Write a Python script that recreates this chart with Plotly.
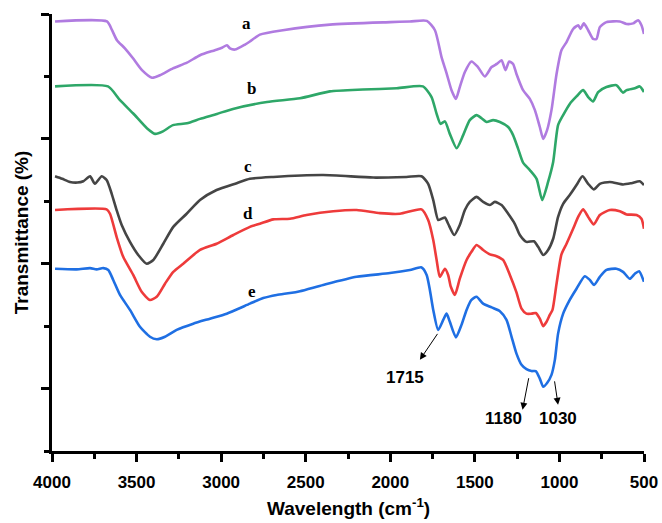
import plotly.graph_objects as go

# FTIR spectra (wavenumber in cm-1, transmittance in offset arbitrary units)
a_wn = [3982, 3675, 3645, 3616, 3569, 3521, 3468, 3409, 3362, 3285, 3202, 3125, 3037, 2995, 2966, 2948, 2918, 2859, 2830, 2771,
        2635, 2357, 2000, 1884, 1784, 1736, 1697, 1667, 1638, 1612, 1589, 1559, 1520, 1482, 1441, 1401, 1370, 1342, 1319, 1297,
        1274, 1254, 1215, 1175, 1145, 1116, 1096, 1073, 1047, 1017, 988, 958, 919, 889, 875, 856, 830, 801, 781, 761,
        722, 643, 603, 564, 535, 515, 500]
a_T = [68.8, 68.8, 67.4, 65.8, 64.5, 62.9, 61.0, 59.8, 60.2, 61.3, 62.2, 63.4, 64.2, 64.6, 65.0, 64.5, 64.3, 65.1, 65.6, 66.7,
       67.4, 68.3, 68.7, 68.8, 68.9, 67.4, 63.1, 60.5, 57.8, 56.4, 58.3, 60.7, 62.4, 61.5, 60.0, 61.5, 62.0, 62.6, 61.0, 62.4,
       62.0, 60.4, 57.8, 56.4, 54.6, 51.9, 50.0, 51.4, 54.6, 60.4, 64.2, 65.5, 67.6, 68.2, 67.6, 68.5, 67.4, 66.0, 66.0, 67.9,
       68.7, 68.8, 68.4, 68.5, 69.0, 68.2, 66.8]

b_wn = [3982, 3669, 3598, 3521, 3439, 3391, 3344, 3285, 3202, 3125, 3025, 2930, 2729, 2534, 2357, 2162, 1961, 1807, 1756, 1726,
        1703, 1677, 1648, 1608, 1569, 1530, 1490, 1460, 1431, 1392, 1352, 1303, 1274, 1244, 1215, 1175, 1135, 1102, 1067, 1037,
        1008, 978, 939, 899, 860, 830, 801, 771, 722, 663, 624, 603, 554, 525, 500]
b_T = [58.4, 58.4, 56.2, 54.1, 51.7, 50.8, 51.2, 52.2, 52.5, 53.2, 54.0, 54.8, 55.9, 56.5, 57.6, 57.9, 58.1, 58.4, 56.7, 54.0,
       52.4, 52.8, 50.8, 48.5, 50.6, 53.0, 53.8, 53.3, 52.7, 53.0, 52.7, 51.9, 50.6, 48.4, 46.2, 45.0, 43.6, 40.2, 43.1, 46.3,
       52.2, 53.8, 55.6, 56.8, 57.8, 56.7, 56.0, 57.5, 58.3, 58.6, 57.4, 57.8, 58.1, 58.4, 57.5]

c_wn = [3982, 3940, 3894, 3850, 3815, 3775, 3746, 3706, 3677, 3647, 3618, 3588, 3539, 3490, 3440, 3401, 3342, 3283, 3204, 3125,
        3027, 2908, 2830, 2692, 2397, 2101, 1904, 1815, 1776, 1746, 1717, 1697, 1677, 1658, 1622, 1589, 1559, 1530, 1490, 1451,
        1411, 1382, 1342, 1303, 1264, 1234, 1195, 1151, 1126, 1096, 1067, 1037, 1008, 978, 939, 899, 864, 830, 797, 761,
        702, 624, 574, 525, 500]
c_T = [44.0, 43.6, 43.1, 43.0, 43.2, 44.0, 42.8, 44.0, 43.4, 41.2, 38.6, 36.2, 33.5, 31.4, 30.0, 30.6, 33.2, 35.9, 38.0, 40.2,
       41.8, 42.9, 43.6, 43.9, 44.2, 43.8, 43.9, 44.0, 42.8, 40.2, 37.0, 37.2, 37.4, 36.4, 34.6, 36.2, 38.6, 39.9, 40.7, 39.9,
       39.4, 39.9, 39.4, 38.0, 36.4, 34.6, 33.5, 33.6, 32.7, 31.4, 32.2, 34.0, 37.5, 39.6, 41.0, 42.6, 44.0, 42.8, 41.9, 42.8,
       43.1, 42.7, 42.9, 43.2, 42.6]

d_wn = [3982, 3677, 3657, 3618, 3579, 3520, 3470, 3421, 3381, 3332, 3283, 3224, 3125, 3027, 2928, 2830, 2771, 2692, 2593, 2495,
        2337, 2199, 2061, 1943, 1815, 1776, 1746, 1726, 1707, 1677, 1658, 1642, 1618, 1589, 1549, 1520, 1490, 1451, 1411, 1372,
        1333, 1293, 1254, 1224, 1195, 1165, 1140, 1116, 1096, 1076, 1057, 1041, 1017, 988, 958, 919, 889, 860, 830, 797,
        761, 702, 643, 603, 544, 515, 500]
d_T = [38.6, 38.7, 38.0, 34.3, 31.1, 28.2, 25.5, 24.2, 24.7, 26.8, 28.7, 30.0, 32.2, 33.2, 34.6, 35.9, 36.4, 37.1, 37.2, 37.8,
       38.4, 38.6, 38.1, 38.0, 38.7, 37.0, 33.8, 30.6, 27.9, 29.2, 28.2, 26.3, 25.0, 27.6, 30.6, 31.9, 33.0, 32.2, 31.5, 31.2,
       30.6, 28.2, 25.4, 22.8, 22.0, 22.0, 22.1, 21.2, 20.0, 20.7, 21.8, 22.6, 26.8, 31.5, 33.2, 35.6, 37.5, 38.7, 37.5, 36.3,
       37.8, 38.6, 38.4, 37.9, 37.8, 37.2, 35.6]

e_wn = [3982, 3854, 3775, 3736, 3697, 3667, 3638, 3598, 3539, 3480, 3421, 3381, 3332, 3263, 3165, 3066, 2967, 2830, 2751, 2672,
        2593, 2534, 2397, 2199, 2002, 1884, 1815, 1785, 1766, 1746, 1717, 1687, 1667, 1648, 1612, 1579, 1549, 1520, 1490, 1451,
        1401, 1352, 1313, 1283, 1254, 1224, 1195, 1165, 1140, 1116, 1096, 1073, 1047, 1027, 1008, 978, 939, 899, 850, 820,
        795, 761, 722, 663, 624, 584, 554, 529, 500]
e_T = [29.2, 29.1, 29.3, 29.1, 29.3, 29.0, 27.4, 25.0, 22.6, 19.9, 18.3, 17.9, 18.3, 19.4, 20.4, 21.2, 22.0, 23.6, 24.5, 25.0,
       25.3, 25.6, 26.6, 27.9, 28.5, 29.0, 29.4, 28.2, 25.8, 22.6, 19.4, 21.0, 22.0, 20.7, 18.2, 20.2, 22.6, 24.2, 24.7, 23.6,
       23.0, 22.4, 21.0, 18.3, 15.6, 13.8, 13.1, 12.8, 12.8, 11.6, 10.3, 10.9, 12.2, 14.6, 18.8, 22.0, 24.2, 26.0, 28.0, 27.4,
       26.6, 27.9, 29.0, 29.2, 28.7, 27.6, 28.4, 28.8, 27.1]

series_names = ["a", "b", "c", "d", "e"]
series_colors = ["#B07BE0", "#2EA768", "#454545", "#EE3B3B", "#1F6FE3"]
series_wn = [a_wn, b_wn, c_wn, d_wn, e_wn]
series_T = [a_T, b_T, c_T, d_T, e_T]

# curve letter label positions (wavenumber, transmittance)
label_wn = [2849, 2820, 2840, 2840, 2820]
label_T = [68.5, 58.1, 45.5, 38.0, 25.5]

# marked bands of curve e: (band, arrow tail T, arrow head wn, head T, text wn, text T)
band_values = [1715, 1180, 1030]
band_tail_T = [19.0, 11.9, 11.4]
band_head_wn = [1825, 1218, 1008]
band_head_T = [14.6, 6.6, 7.4]
band_text_wn = [1914, 1329, 1008]
band_text_T = [11.7, 5.2, 5.2]

SANS = "Arial, Liberation Sans, sans-serif"
SERIF = "Times New Roman, Liberation Serif, serif"

fig = go.Figure()
for name, color, wn, T in zip(series_names, series_colors, series_wn, series_T):
    fig.add_trace(go.Scatter(x=wn, y=T, mode="lines", name=name,
                             line=dict(color=color, width=2.6, shape="spline", smoothing=0.6)))

annotations = []
for name, x, y in zip(series_names, label_wn, label_T):
    annotations.append(dict(x=x, y=y, xref="x", yref="y", text=f"<b>{name}</b>", showarrow=False,
                            font=dict(family=SERIF, size=17, color="black")))

for band, tail_T, hx, hy, tx, ty in zip(band_values, band_tail_T, band_head_wn, band_head_T, band_text_wn, band_text_T):
    annotations.append(dict(x=hx, y=hy, xref="x", yref="y", ax=band, ay=tail_T, axref="x", ayref="y",
                            text="", showarrow=True, arrowhead=2, arrowsize=1.4, arrowwidth=1, arrowcolor="black"))
    annotations.append(dict(x=tx, y=ty, xref="x", yref="y", text=f"<b>{band}</b>", showarrow=False,
                            font=dict(family=SANS, size=17, color="black")))

annotations.append(dict(x=0.5, y=-0.128, xref="paper", yref="paper", showarrow=False,
                        text="<b>Wavelength (cm<sup>-1</sup>)</b>", xanchor="center", yanchor="middle",
                        font=dict(family=SANS, size=19, color="black")))
annotations.append(dict(x=-0.051, y=0.5, xref="paper", yref="paper", showarrow=False, textangle=-90,
                        text="<b>Transmittance (%)</b>", xanchor="center", yanchor="middle",
                        font=dict(family=SANS, size=19, color="black")))

fig.update_layout(
    width=662, height=523,
    margin=dict(l=52, r=18, t=14, b=72, autoexpand=False),
    paper_bgcolor="white", plot_bgcolor="white",
    showlegend=False,
    annotations=annotations,
)
fig.update_xaxes(
    range=[4000, 500], tickmode="linear", tick0=500, dtick=500,
    showline=True, linecolor="black", linewidth=3,
    ticks="outside", ticklen=8, tickwidth=3, tickcolor="black",
    minor=dict(dtick=250, tick0=500, ticks="outside", ticklen=5, tickwidth=3, tickcolor="black"),
    tickfont=dict(family=SANS, size=17, color="black"),
    tickprefix="<b>", ticksuffix="</b>", ticklabelstandoff=6,
    showgrid=False, zeroline=False, automargin=False,
)
fig.update_yaxes(
    range=[0, 70], tickmode="linear", tick0=10, dtick=20,
    showline=True, linecolor="black", linewidth=3,
    ticks="outside", ticklen=8, tickwidth=3, tickcolor="black",
    minor=dict(dtick=20, tick0=0, ticks="outside", ticklen=5, tickwidth=3, tickcolor="black"),
    showticklabels=False,
    showgrid=False, zeroline=False, automargin=False,
)

fig.write_html("out.html")
